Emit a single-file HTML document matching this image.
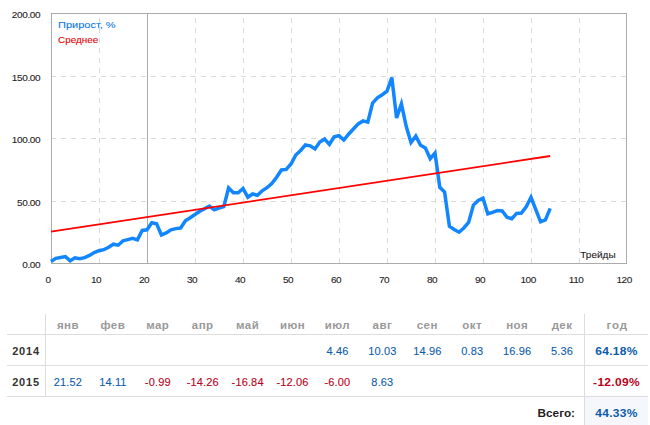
<!DOCTYPE html>
<html><head><meta charset="utf-8"><style>
html,body{margin:0;padding:0;background:#fff;}
body{width:650px;height:425px;position:relative;overflow:hidden;font-family:"Liberation Sans",sans-serif;}
</style></head><body>
<svg width="650" height="425" style="position:absolute;left:0;top:0"><line x1="51" y1="76.5" x2="627" y2="76.5" stroke="#d9d9d9" stroke-width="1" stroke-dasharray="5 5"/><line x1="51" y1="138.5" x2="627" y2="138.5" stroke="#d9d9d9" stroke-width="1" stroke-dasharray="5 5"/><line x1="51" y1="201.5" x2="627" y2="201.5" stroke="#d9d9d9" stroke-width="1" stroke-dasharray="5 5"/><line x1="99.5" y1="263" x2="99.5" y2="13" stroke="#d9d9d9" stroke-width="1" stroke-dasharray="5 5"/><line x1="147.5" y1="263" x2="147.5" y2="13" stroke="#ababab" stroke-width="1"/><line x1="195.5" y1="263" x2="195.5" y2="13" stroke="#d9d9d9" stroke-width="1" stroke-dasharray="5 5"/><line x1="243.5" y1="263" x2="243.5" y2="13" stroke="#d9d9d9" stroke-width="1" stroke-dasharray="5 5"/><line x1="291.5" y1="263" x2="291.5" y2="13" stroke="#d9d9d9" stroke-width="1" stroke-dasharray="5 5"/><line x1="339.5" y1="263" x2="339.5" y2="13" stroke="#d9d9d9" stroke-width="1" stroke-dasharray="5 5"/><line x1="387.5" y1="263" x2="387.5" y2="13" stroke="#d9d9d9" stroke-width="1" stroke-dasharray="5 5"/><line x1="435.5" y1="263" x2="435.5" y2="13" stroke="#d9d9d9" stroke-width="1" stroke-dasharray="5 5"/><line x1="483.5" y1="263" x2="483.5" y2="13" stroke="#d9d9d9" stroke-width="1" stroke-dasharray="5 5"/><line x1="531.5" y1="263" x2="531.5" y2="13" stroke="#d9d9d9" stroke-width="1" stroke-dasharray="5 5"/><line x1="579.5" y1="263" x2="579.5" y2="13" stroke="#d9d9d9" stroke-width="1" stroke-dasharray="5 5"/><rect x="51.5" y="13.5" width="575" height="250" fill="none" stroke="#ababab" stroke-width="1"/><polyline points="51.0,261.5 55.8,258.4 60.6,257.5 65.4,256.6 70.2,260.8 75.0,257.8 79.8,258.7 84.6,257.7 89.4,255.4 94.2,252.5 99.0,250.7 103.8,249.7 108.6,247.2 113.4,244.2 118.2,245.2 123.0,240.8 127.8,239.6 132.6,238.3 137.4,239.9 142.2,230.4 147.0,229.8 151.8,222.7 156.6,223.7 161.4,235.0 166.2,232.9 171.0,229.8 175.8,228.6 180.6,228.0 185.4,220.8 190.2,217.8 195.0,214.5 199.8,211.2 204.6,208.8 209.4,206.1 214.2,209.8 219.0,208.2 223.8,206.7 228.6,188.0 233.4,192.8 238.2,192.8 243.0,188.5 247.8,197.2 252.6,194.0 257.4,195.3 262.2,190.8 267.0,187.7 271.8,183.5 276.6,177.3 281.4,170.0 286.2,169.4 291.0,164.0 295.8,155.0 300.6,150.5 305.4,145.0 310.2,145.8 315.0,148.9 319.8,142.1 324.6,139.0 329.4,144.3 334.2,136.7 339.0,135.6 343.8,140.0 348.6,134.2 353.4,129.0 358.2,123.9 363.0,120.9 367.8,122.1 372.6,103.0 377.4,97.9 382.2,94.7 387.0,91.2 391.8,77.5 396.6,118.0 401.4,103.9 406.2,126.3 411.0,142.5 415.8,136.1 420.6,145.3 425.4,148.1 430.2,158.7 435.0,153.1 439.8,187.3 444.6,192.0 449.4,226.3 454.2,229.5 459.0,232.2 463.8,228.0 468.6,222.4 473.4,205.1 478.2,200.5 483.0,198.2 487.8,213.8 492.6,212.4 497.4,210.6 502.2,211.0 507.0,217.3 511.8,218.7 516.6,213.4 521.4,213.1 526.2,206.7 531.0,197.3 535.8,209.6 540.6,221.8 545.4,219.9 550.2,208.4" fill="none" stroke="#1286ff" stroke-width="3.5" stroke-linejoin="miter" stroke-miterlimit="4" stroke-linecap="butt"/><line x1="51" y1="231.6" x2="550.2" y2="156.0" stroke="#ff0000" stroke-width="1.8"/></svg>
<div style="position:absolute;top:9.84px;font-size:10px;line-height:10px;color:#1a1a1a;font-weight:normal;white-space:nowrap;-webkit-text-stroke:0.1px #1a1a1a;letter-spacing:-0.35px;left:0.30px;width:40px;text-align:right;transform:scale(1.0,0.92);transform-origin:100% 8.46px;">200.00</div><div style="position:absolute;top:72.83px;font-size:10px;line-height:10px;color:#1a1a1a;font-weight:normal;white-space:nowrap;-webkit-text-stroke:0.1px #1a1a1a;letter-spacing:-0.35px;left:0.30px;width:40px;text-align:right;transform:scale(1.0,0.92);transform-origin:100% 8.46px;">150.00</div><div style="position:absolute;top:134.84px;font-size:10px;line-height:10px;color:#1a1a1a;font-weight:normal;white-space:nowrap;-webkit-text-stroke:0.1px #1a1a1a;letter-spacing:-0.35px;left:0.30px;width:40px;text-align:right;transform:scale(1.0,0.92);transform-origin:100% 8.46px;">100.00</div><div style="position:absolute;top:197.84px;font-size:10px;line-height:10px;color:#1a1a1a;font-weight:normal;white-space:nowrap;-webkit-text-stroke:0.1px #1a1a1a;letter-spacing:-0.35px;left:0.30px;width:40px;text-align:right;transform:scale(1.0,0.92);transform-origin:100% 8.46px;">50.00</div><div style="position:absolute;top:259.84px;font-size:10px;line-height:10px;color:#1a1a1a;font-weight:normal;white-space:nowrap;-webkit-text-stroke:0.1px #1a1a1a;letter-spacing:-0.35px;left:0.30px;width:40px;text-align:right;transform:scale(1.0,0.92);transform-origin:100% 8.46px;">0.00</div><div style="position:absolute;top:274.74px;font-size:10px;line-height:10px;color:#1a1a1a;font-weight:normal;white-space:nowrap;-webkit-text-stroke:0.1px #1a1a1a;letter-spacing:-0.45px;left:28.10px;width:40px;text-align:center;transform:scale(1.0,0.92);transform-origin:50% 8.46px;">0</div><div style="position:absolute;top:274.74px;font-size:10px;line-height:10px;color:#1a1a1a;font-weight:normal;white-space:nowrap;-webkit-text-stroke:0.1px #1a1a1a;letter-spacing:-0.45px;left:76.10px;width:40px;text-align:center;transform:scale(1.0,0.92);transform-origin:50% 8.46px;">10</div><div style="position:absolute;top:274.74px;font-size:10px;line-height:10px;color:#1a1a1a;font-weight:normal;white-space:nowrap;-webkit-text-stroke:0.1px #1a1a1a;letter-spacing:-0.45px;left:124.10px;width:40px;text-align:center;transform:scale(1.0,0.92);transform-origin:50% 8.46px;">20</div><div style="position:absolute;top:274.74px;font-size:10px;line-height:10px;color:#1a1a1a;font-weight:normal;white-space:nowrap;-webkit-text-stroke:0.1px #1a1a1a;letter-spacing:-0.45px;left:172.10px;width:40px;text-align:center;transform:scale(1.0,0.92);transform-origin:50% 8.46px;">30</div><div style="position:absolute;top:274.74px;font-size:10px;line-height:10px;color:#1a1a1a;font-weight:normal;white-space:nowrap;-webkit-text-stroke:0.1px #1a1a1a;letter-spacing:-0.45px;left:220.10px;width:40px;text-align:center;transform:scale(1.0,0.92);transform-origin:50% 8.46px;">40</div><div style="position:absolute;top:274.74px;font-size:10px;line-height:10px;color:#1a1a1a;font-weight:normal;white-space:nowrap;-webkit-text-stroke:0.1px #1a1a1a;letter-spacing:-0.45px;left:268.10px;width:40px;text-align:center;transform:scale(1.0,0.92);transform-origin:50% 8.46px;">50</div><div style="position:absolute;top:274.74px;font-size:10px;line-height:10px;color:#1a1a1a;font-weight:normal;white-space:nowrap;-webkit-text-stroke:0.1px #1a1a1a;letter-spacing:-0.45px;left:316.10px;width:40px;text-align:center;transform:scale(1.0,0.92);transform-origin:50% 8.46px;">60</div><div style="position:absolute;top:274.74px;font-size:10px;line-height:10px;color:#1a1a1a;font-weight:normal;white-space:nowrap;-webkit-text-stroke:0.1px #1a1a1a;letter-spacing:-0.45px;left:364.10px;width:40px;text-align:center;transform:scale(1.0,0.92);transform-origin:50% 8.46px;">70</div><div style="position:absolute;top:274.74px;font-size:10px;line-height:10px;color:#1a1a1a;font-weight:normal;white-space:nowrap;-webkit-text-stroke:0.1px #1a1a1a;letter-spacing:-0.45px;left:412.10px;width:40px;text-align:center;transform:scale(1.0,0.92);transform-origin:50% 8.46px;">80</div><div style="position:absolute;top:274.74px;font-size:10px;line-height:10px;color:#1a1a1a;font-weight:normal;white-space:nowrap;-webkit-text-stroke:0.1px #1a1a1a;letter-spacing:-0.45px;left:460.10px;width:40px;text-align:center;transform:scale(1.0,0.92);transform-origin:50% 8.46px;">90</div><div style="position:absolute;top:274.74px;font-size:10px;line-height:10px;color:#1a1a1a;font-weight:normal;white-space:nowrap;-webkit-text-stroke:0.1px #1a1a1a;letter-spacing:-0.45px;left:508.10px;width:40px;text-align:center;transform:scale(1.0,0.92);transform-origin:50% 8.46px;">100</div><div style="position:absolute;top:274.74px;font-size:10px;line-height:10px;color:#1a1a1a;font-weight:normal;white-space:nowrap;-webkit-text-stroke:0.1px #1a1a1a;letter-spacing:-0.45px;left:556.10px;width:40px;text-align:center;transform:scale(1.0,0.92);transform-origin:50% 8.46px;">110</div><div style="position:absolute;top:274.74px;font-size:10px;line-height:10px;color:#1a1a1a;font-weight:normal;white-space:nowrap;-webkit-text-stroke:0.1px #1a1a1a;letter-spacing:-0.45px;left:604.10px;width:40px;text-align:center;transform:scale(1.0,0.92);transform-origin:50% 8.46px;">120</div><div style="position:absolute;top:20.04px;font-size:10px;line-height:10px;color:#0a78e6;font-weight:normal;white-space:nowrap;-webkit-text-stroke:0.1px #0a78e6;left:57.9px;transform:scale(1.1,0.97);transform-origin:0px 8.46px;">Прирост, %</div><div style="position:absolute;top:35.03px;font-size:10px;line-height:10px;color:#e60000;font-weight:normal;white-space:nowrap;-webkit-text-stroke:0.1px #e60000;left:57.9px;transform:scale(0.99,0.97);transform-origin:0px 8.46px;">Среднее</div><div style="position:absolute;top:250.03px;font-size:10px;line-height:10px;color:#1a1a1a;font-weight:normal;white-space:nowrap;-webkit-text-stroke:0.1px #1a1a1a;left:580.3px;transform:scale(1.0,0.92);transform-origin:0px 8.46px;">Трейды</div>
<div style="position:absolute;left:45px;top:314px;width:1px;height:82px;background:#dddddd"></div><div style="position:absolute;left:584px;top:314px;width:1px;height:111px;background:#dddddd"></div><div style="position:absolute;left:585px;top:397px;width:63px;height:28px;background:#f5f7fc"></div><div style="position:absolute;left:7px;top:334px;width:641px;height:1px;background:#dddddd"></div><div style="position:absolute;left:7px;top:365px;width:641px;height:1px;background:#dddddd"></div><div style="position:absolute;left:7px;top:396px;width:641px;height:1px;background:#dddddd"></div><div style="position:absolute;top:319.57px;font-size:11.5px;line-height:11.5px;color:#999;font-weight:bold;white-space:nowrap;letter-spacing:0.45px;left:45.96px;width:44px;text-align:center;">янв</div><div style="position:absolute;top:319.57px;font-size:11.5px;line-height:11.5px;color:#999;font-weight:bold;white-space:nowrap;letter-spacing:0.45px;left:90.88px;width:44px;text-align:center;">фев</div><div style="position:absolute;top:319.57px;font-size:11.5px;line-height:11.5px;color:#999;font-weight:bold;white-space:nowrap;letter-spacing:0.45px;left:135.79px;width:44px;text-align:center;">мар</div><div style="position:absolute;top:319.57px;font-size:11.5px;line-height:11.5px;color:#999;font-weight:bold;white-space:nowrap;letter-spacing:0.45px;left:180.71px;width:44px;text-align:center;">апр</div><div style="position:absolute;top:319.57px;font-size:11.5px;line-height:11.5px;color:#999;font-weight:bold;white-space:nowrap;letter-spacing:0.45px;left:225.62px;width:44px;text-align:center;">май</div><div style="position:absolute;top:319.57px;font-size:11.5px;line-height:11.5px;color:#999;font-weight:bold;white-space:nowrap;letter-spacing:0.45px;left:270.54px;width:44px;text-align:center;">июн</div><div style="position:absolute;top:319.57px;font-size:11.5px;line-height:11.5px;color:#999;font-weight:bold;white-space:nowrap;letter-spacing:0.45px;left:315.46px;width:44px;text-align:center;">июл</div><div style="position:absolute;top:319.57px;font-size:11.5px;line-height:11.5px;color:#999;font-weight:bold;white-space:nowrap;letter-spacing:0.45px;left:360.38px;width:44px;text-align:center;">авг</div><div style="position:absolute;top:319.57px;font-size:11.5px;line-height:11.5px;color:#999;font-weight:bold;white-space:nowrap;letter-spacing:0.45px;left:405.29px;width:44px;text-align:center;">сен</div><div style="position:absolute;top:319.57px;font-size:11.5px;line-height:11.5px;color:#999;font-weight:bold;white-space:nowrap;letter-spacing:0.45px;left:450.21px;width:44px;text-align:center;">окт</div><div style="position:absolute;top:319.57px;font-size:11.5px;line-height:11.5px;color:#999;font-weight:bold;white-space:nowrap;letter-spacing:0.45px;left:495.12px;width:44px;text-align:center;">ноя</div><div style="position:absolute;top:319.57px;font-size:11.5px;line-height:11.5px;color:#999;font-weight:bold;white-space:nowrap;letter-spacing:0.45px;left:540.04px;width:44px;text-align:center;">дек</div><div style="position:absolute;top:319.57px;font-size:11.5px;line-height:11.5px;color:#999;font-weight:bold;white-space:nowrap;letter-spacing:0.9px;left:587.20px;width:60px;text-align:center;">год</div><div style="position:absolute;top:345.89px;font-size:11px;line-height:11px;color:#333;font-weight:bold;white-space:nowrap;letter-spacing:0.8px;left:7.00px;width:38px;text-align:center;">2014</div><div style="position:absolute;top:376.99px;font-size:11px;line-height:11px;color:#333;font-weight:bold;white-space:nowrap;letter-spacing:0.8px;left:7.00px;width:38px;text-align:center;">2015</div><div style="position:absolute;top:345.89px;font-size:11px;line-height:11px;color:#0d5cab;font-weight:normal;white-space:nowrap;-webkit-text-stroke:0.1px #0d5cab;letter-spacing:0.15px;left:315.46px;width:44px;text-align:center;">4.46</div><div style="position:absolute;top:345.89px;font-size:11px;line-height:11px;color:#0d5cab;font-weight:normal;white-space:nowrap;-webkit-text-stroke:0.1px #0d5cab;letter-spacing:0.15px;left:360.38px;width:44px;text-align:center;">10.03</div><div style="position:absolute;top:345.89px;font-size:11px;line-height:11px;color:#0d5cab;font-weight:normal;white-space:nowrap;-webkit-text-stroke:0.1px #0d5cab;letter-spacing:0.15px;left:405.29px;width:44px;text-align:center;">14.96</div><div style="position:absolute;top:345.89px;font-size:11px;line-height:11px;color:#0d5cab;font-weight:normal;white-space:nowrap;-webkit-text-stroke:0.1px #0d5cab;letter-spacing:0.15px;left:450.21px;width:44px;text-align:center;">0.83</div><div style="position:absolute;top:345.89px;font-size:11px;line-height:11px;color:#0d5cab;font-weight:normal;white-space:nowrap;-webkit-text-stroke:0.1px #0d5cab;letter-spacing:0.15px;left:495.12px;width:44px;text-align:center;">16.96</div><div style="position:absolute;top:345.89px;font-size:11px;line-height:11px;color:#0d5cab;font-weight:normal;white-space:nowrap;-webkit-text-stroke:0.1px #0d5cab;letter-spacing:0.15px;left:540.04px;width:44px;text-align:center;">5.36</div><div style="position:absolute;top:376.99px;font-size:11px;line-height:11px;color:#0d5cab;font-weight:normal;white-space:nowrap;-webkit-text-stroke:0.1px #0d5cab;letter-spacing:0.15px;left:45.96px;width:44px;text-align:center;">21.52</div><div style="position:absolute;top:376.99px;font-size:11px;line-height:11px;color:#0d5cab;font-weight:normal;white-space:nowrap;-webkit-text-stroke:0.1px #0d5cab;letter-spacing:0.15px;left:90.88px;width:44px;text-align:center;">14.11</div><div style="position:absolute;top:376.99px;font-size:11px;line-height:11px;color:#b8001a;font-weight:normal;white-space:nowrap;-webkit-text-stroke:0.1px #b8001a;letter-spacing:0.15px;left:135.79px;width:44px;text-align:center;">-0.99</div><div style="position:absolute;top:376.99px;font-size:11px;line-height:11px;color:#b8001a;font-weight:normal;white-space:nowrap;-webkit-text-stroke:0.1px #b8001a;letter-spacing:0.15px;left:180.71px;width:44px;text-align:center;">-14.26</div><div style="position:absolute;top:376.99px;font-size:11px;line-height:11px;color:#b8001a;font-weight:normal;white-space:nowrap;-webkit-text-stroke:0.1px #b8001a;letter-spacing:0.15px;left:225.62px;width:44px;text-align:center;">-16.84</div><div style="position:absolute;top:376.99px;font-size:11px;line-height:11px;color:#b8001a;font-weight:normal;white-space:nowrap;-webkit-text-stroke:0.1px #b8001a;letter-spacing:0.15px;left:270.54px;width:44px;text-align:center;">-12.06</div><div style="position:absolute;top:376.99px;font-size:11px;line-height:11px;color:#b8001a;font-weight:normal;white-space:nowrap;-webkit-text-stroke:0.1px #b8001a;letter-spacing:0.15px;left:315.46px;width:44px;text-align:center;">-6.00</div><div style="position:absolute;top:376.99px;font-size:11px;line-height:11px;color:#0d5cab;font-weight:normal;white-space:nowrap;-webkit-text-stroke:0.1px #0d5cab;letter-spacing:0.15px;left:360.38px;width:44px;text-align:center;">8.63</div><div style="position:absolute;top:345.04px;font-size:12px;line-height:12px;color:#0d5cab;font-weight:bold;white-space:nowrap;letter-spacing:0.3px;left:584.50px;width:64px;text-align:center;transform:scale(1.0,0.93);transform-origin:50% 10.16px;">64.18%</div><div style="position:absolute;top:376.14px;font-size:12px;line-height:12px;color:#b8001a;font-weight:bold;white-space:nowrap;letter-spacing:0.3px;left:584.50px;width:64px;text-align:center;transform:scale(1.0,0.93);transform-origin:50% 10.16px;">-12.09%</div><div style="position:absolute;top:406.64px;font-size:12px;line-height:12px;color:#222;font-weight:bold;white-space:nowrap;left:494.50px;width:80px;text-align:right;transform:scale(0.98,0.93);transform-origin:100% 10.16px;">Всего:</div><div style="position:absolute;top:406.64px;font-size:12px;line-height:12px;color:#0d5cab;font-weight:bold;white-space:nowrap;letter-spacing:0.3px;left:584.50px;width:64px;text-align:center;transform:scale(1.0,0.93);transform-origin:50% 10.16px;">44.33%</div>
</body></html>
